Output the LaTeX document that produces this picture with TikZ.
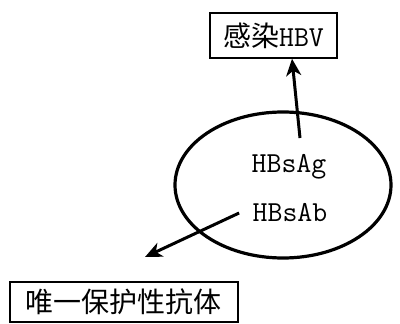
\documentclass[tikz,border=0pt]{standalone}
\usepackage{fontspec}
\newfontfamily\cjk{Noto Sans CJK SC}
\usetikzlibrary{shapes.geometric,arrows.meta}

\begin{document}
\begin{tikzpicture}[x=1pt,y=-1pt,
    kasten/.style={draw,line width=1.5pt,inner sep=0pt},
    latein/.style={font=\fontsize{29pt}{29pt}\selectfont\ttfamily},
    pfeil/.style={line width=3pt,-{Stealth[length=17pt,width=15pt,inset=5pt]}}]
    \useasboundingbox (0,0) rectangle (400,324);

    % Antigen und Antikoerper
    \node[draw,ellipse,line width=3.2pt,minimum width=216pt,minimum height=146pt] (hbs) at (283,185) {};
    \node[latein] (ag) at (289,167) {HBsAg};
    \node[latein] (ab) at (290,213) {HBsAb};

    % Kaesten
    \node[kasten,minimum width=127pt,minimum height=45pt] (hbv) at (273.5,35.5)
        {{\fontsize{28pt}{28pt}\selectfont\cjk 感染}{\fontsize{29pt}{29pt}\selectfont\ttfamily HBV}};
    \node[kasten,minimum width=228pt,minimum height=40pt] (schutz) at (124,302)
        {\fontsize{28pt}{28pt}\selectfont\cjk 唯一保护性抗体};

    \coordinate (start) at (300,138);
    \coordinate (ziel) at (145,257);

    \draw[pfeil] (start) -- (hbv.south -| 292,0);
    \draw[pfeil] (ab.west) ++(-10,0) -- (ziel);
\end{tikzpicture}
\end{document}
